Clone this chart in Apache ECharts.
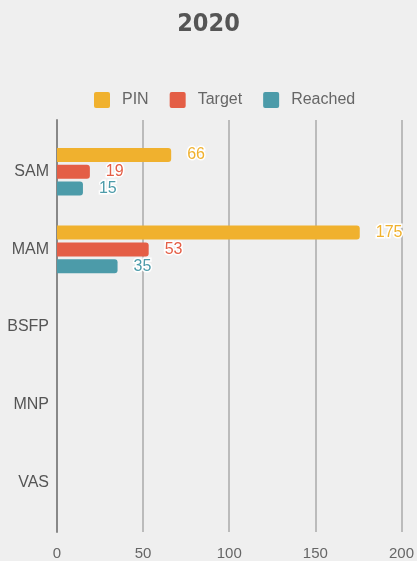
<!DOCTYPE html>
<html><head><meta charset="utf-8">
<script src="https://cdn.jsdelivr.net/npm/echarts@6/dist/echarts.min.js"></script>
<style>html,body{margin:0;padding:0;background:#efefef;}#c{width:417px;height:561px;}</style>
</head><body><div id="c"></div>
<script>
const titleText = "2020";
const categories = ["SAM", "MAM", "BSFP", "MNP", "VAS"];
const seriesNames = ["PIN", "Target", "Reached"];
const pinValues = [66, 175, null, null, null];
const targetValues = [19, 53, null, null, null];
const reachedValues = [15, 35, null, null, null];
const xTicks = [0, 50, 100, 150, 200];
const colors = ["#F0B12E", "#E45E46", "#4C9BA9"];

const chart = echarts.init(document.getElementById('c'));
const valuesList = [pinValues, targetValues, reachedValues];
const series = seriesNames.map((n, i) => ({
  name: n, type: 'bar', xAxisIndex: 1, yAxisIndex: 1,
  data: valuesList[i],
  barWidth: 14, barGap: '20%',
  itemStyle: { color: colors[i], borderRadius: [0, 3, 3, 0] },
  label: {
    show: true, position: 'right', distance: 16,
    color: colors[i], fontSize: 16, fontFamily: 'Liberation Sans, Arial',
    textBorderColor: '#ffffff', textBorderWidth: 3,
    formatter: p => p.value == null ? '' : p.value
  }
}));
chart.setOption({
  backgroundColor: '#efefef',
  animation: false,
  title: { text: titleText, left: 'center', top: 7,
    textStyle: { fontFamily: 'DejaVu Sans Condensed, Liberation Sans Narrow, Roboto Condensed', fontWeight: 'bold', fontSize: 25, color: '#555' } },
  legend: { top: 87, left: 89, itemWidth: 16, itemHeight: 16, itemGap: 21,
    icon: 'path://M2,0H14Q16,0 16,2V14Q16,16 14,16H2Q0,16 0,14V2Q0,0 2,0Z',
    textStyle: { fontFamily: 'Liberation Sans, Arial', fontSize: 16, color: '#666', padding: [0,0,0,7] },
    data: seriesNames },
  color: colors,
  grid: [
    { left: 57, right: 14, top: 120, bottom: 28 },
    { left: 57, right: 14, top: 133, bottom: 40 }
  ],
  xAxis: [
    { type: 'value', gridIndex: 0, min: xTicks[0], max: xTicks[xTicks.length-1], interval: 50,
      axisLine: { show: false }, axisTick: { show: false },
      axisLabel: { color: '#666', fontSize: 15, fontFamily: 'Liberation Sans, Arial', margin: 14 },
      splitLine: { show: true, lineStyle: { color: '#aaaaaa', width: 1.5 } } },
    { type: 'value', gridIndex: 1, min: 0, max: 200, show: false, splitLine: { show: false } }
  ],
  yAxis: [
    { type: 'category', gridIndex: 0, data: [''], axisLabel: { show: false }, axisTick: { show: false },
      axisLine: { show: true, lineStyle: { color: '#888888', width: 2 } } },
    { type: 'category', gridIndex: 1, data: categories, inverse: true,
      axisLine: { show: false }, axisTick: { show: false },
      axisLabel: { color: '#555', fontSize: 16, fontFamily: 'Liberation Sans, Arial', margin: 8 } }
  ],
  series: series
});
</script></body></html>
